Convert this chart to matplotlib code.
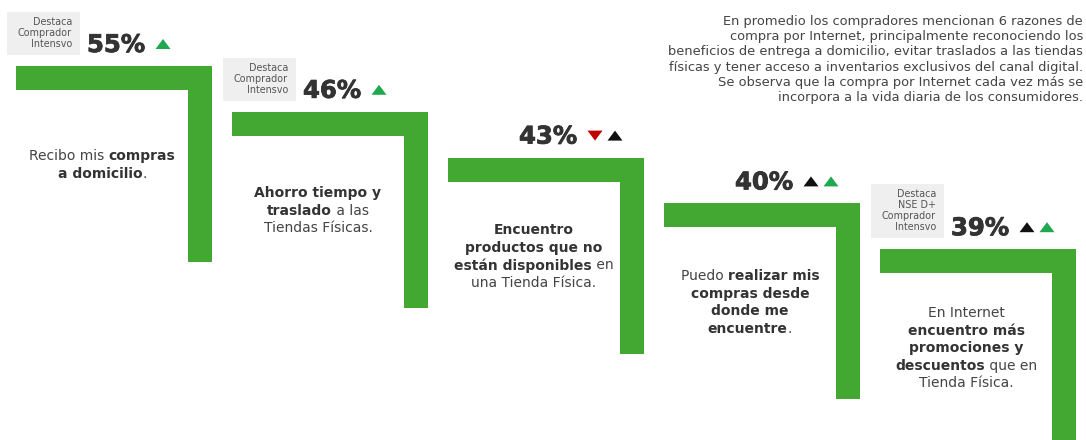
import matplotlib
matplotlib.use("Agg")
import matplotlib.pyplot as plt
import matplotlib.patheffects as pe
from matplotlib.patches import Rectangle, Polygon

plt.rcParams['font.family'] = ['DejaVu Sans']

# Razones de compra por Internet
percents = [55, 46, 43, 40, 39]
# tendencias: 'up' verde, 'down' rojo, 'flat' negro
trends = [["up"], ["up"], ["down", "flat"], ["flat", "up"], ["flat", "up"]]
badges = [["Destaca", "Comprador", "Intensvo"],
          ["Destaca", "Comprador", "Intensvo"],
          [],
          [],
          ["Destaca", "NSE D+", "Comprador", "Intensvo"]]
# cada linea: lista de (texto, negrita)
reasons = [
    [[("Recibo mis ", False), ("compras", True)],
     [("a domicilio", True), (".", False)]],
    [[("Ahorro tiempo y", True)],
     [("traslado", True), (" a las", False)],
     [("Tiendas Físicas.", False)]],
    [[("Encuentro", True)],
     [("productos que no", True)],
     [("están disponibles", True), (" en", False)],
     [("una Tienda Física.", False)]],
    [[("Puedo ", False), ("realizar mis", True)],
     [("compras desde", True)],
     [("donde me", True)],
     [("encuentre", True), (".", False)]],
    [[("En Internet", False)],
     [("encuentro más", True)],
     [("promociones y", True)],
     [("descuentos", True), (" que en", False)],
     [("Tienda Física.", False)]],
]
summary = [
    "En promedio los compradores mencionan 6 razones de",
    "compra por Internet, principalmente reconociendo los",
    "beneficios de entrega a domicilio, evitar traslados a las tiendas",
    "físicas y tener acceso a inventarios exclusivos del canal digital.",
    "Se observa que la compra por Internet cada vez más se",
    "incorpora a la vida diaria de los consumidores.",
]

GREEN = "#43a832"
TREND_COLORS = {"up": "#1fa84f", "down": "#c00000", "flat": "#111111"}
TEXT = "#444444"

W, H = 1086, 440
fig = plt.figure(figsize=(W / 100, H / 100), dpi=100)
ax = fig.add_axes([0, 0, 1, 1])
ax.set_xlim(0, W)
ax.set_ylim(H, 0)
ax.axis("off")

x0, y0 = 16, 66        # esquina del primer escalon
dx, dy = 216, 45.8     # desplazamiento entre escalones
size, thick = 196, 24  # lado y grosor de cada "L"

renderer = fig.canvas.get_renderer()


def rich_line(xc, yc, parts, fontsize):
    # dibuja una linea centrada con tramos normales y en negrita
    texts = []
    for s, bold in parts:
        t = ax.text(0, yc, s, fontsize=fontsize, ha="left", va="center",
                    color="#333333" if bold else TEXT,
                    fontweight="bold" if bold else "normal")
        texts.append(t)
    widths = [t.get_window_extent(renderer).width for t in texts]
    x = xc - sum(widths) / 2
    for t, w in zip(texts, widths):
        t.set_x(x)
        x += w


for i, pct in enumerate(percents):
    left = x0 + i * dx
    top = y0 + i * dy
    # escalon en forma de L
    ax.add_patch(Rectangle((left, top), size, thick, color=GREEN, lw=0))
    ax.add_patch(Rectangle((left + size - thick, top), thick, size, color=GREEN, lw=0))

    # porcentaje
    ax.text(left + 71, top - 21, f"{pct}%", fontsize=17.5, fontweight="heavy",
            color="#333333", ha="left", va="center",
            path_effects=[pe.Stroke(linewidth=0.6, foreground="#333333"), pe.Normal()])

    # flechas de tendencia
    for j, tr in enumerate(trends[i]):
        cx = left + 147 + j * 20
        cy = top - 22
        if tr == "down":
            pts = [(cx - 7.5, cy - 5), (cx + 7.5, cy - 5), (cx, cy + 5)]
        else:
            pts = [(cx - 7.5, cy + 5), (cx + 7.5, cy + 5), (cx, cy - 5)]
        ax.add_patch(Polygon(pts, closed=True, color=TREND_COLORS[tr], lw=0))

    # recuadro "Destaca"
    if badges[i]:
        n = len(badges[i])
        bh = 11 * n + 10
        bx = left - 9
        by = top - 11 - bh
        ax.add_patch(Rectangle((bx, by), 73, bh, color="#efefef", lw=0))
        for k, line in enumerate(badges[i]):
            ax.text(bx + 65, by + 10 + k * 11, line, fontsize=6.9, color="#555555",
                    ha="right", va="center")

    # texto de la razon
    lines = reasons[i]
    lh = 17.6
    yc = top + 99 - (len(lines) - 1) * lh / 2
    for k, parts in enumerate(lines):
        rich_line(left + 86, yc + k * lh, parts, 10)

# texto resumen arriba a la derecha
for k, line in enumerate(summary):
    ax.text(1083, 21 + k * 15.4, line, fontsize=9.4, color="#444444",
            ha="right", va="center")

fig.savefig("out.png", dpi=100, facecolor="white")
